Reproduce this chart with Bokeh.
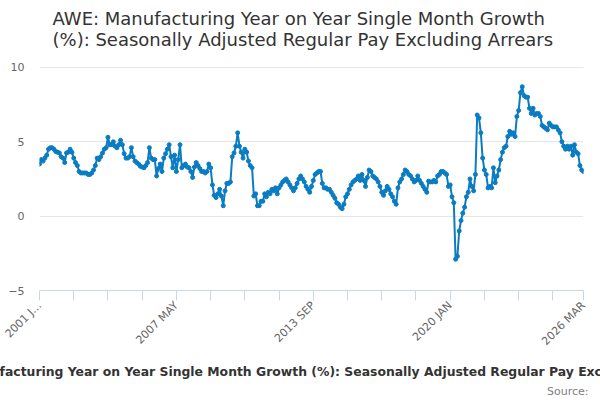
import math
from bokeh.plotting import figure
from bokeh.models import Range1d, FixedTicker, ColumnDataSource, Title
from bokeh.embed import file_html
from bokeh.resources import INLINE

TITLE_TEXT = ("AWE: Manufacturing Year on Year Single Month Growth\n"
              "(%): Seasonally Adjusted Regular Pay Excluding Arrears")
SERIES_NAME = "AWE: Manufacturing Year on Year Single Month Growth (%): Seasonally Adjusted Regular Pay Excluding Arrears"
SOURCE_TEXT = "Source:"

start_year = 2001
months = ["JAN", "FEB", "MAR", "APR", "MAY", "JUN", "JUL", "AUG", "SEP", "OCT", "NOV", "DEC"]

v2001 = [3.5, 3.8, 3.7, 3.9, 4.1, 4.5, 4.6, 4.6, 4.5, 4.35, 4.3, 4.25]
v2002 = [4.0, 3.9, 3.6, 4.25, 4.3, 4.5, 4.3, 3.9, 3.6, 3.4, 3.0, 2.9]
v2003 = [2.9, 2.9, 2.9, 2.8, 2.8, 2.9, 3.1, 3.4, 3.9, 3.8, 4.0, 4.25]
v2004 = [4.5, 4.6, 5.3, 4.8, 4.8, 5.0, 4.7, 4.6, 4.8, 5.1, 4.8, 4.2]
v2005 = [3.9, 3.9, 4.0, 4.6, 4.0, 3.7, 3.6, 3.5, 3.35, 3.3, 3.25, 3.4]
v2006 = [3.6, 4.6, 3.9, 3.8, 3.8, 2.7, 3.2, 3.5, 3.0, 3.9, 4.2, 4.5]
v2007 = [4.8, 4.0, 3.25, 4.1, 3.0, 3.8, 4.8, 3.25, 3.4, 3.5, 3.3, 3.25]
v2008 = [3.0, 2.6, 3.3, 3.6, 3.4, 3.2, 3.0, 3.0, 2.9, 3.0, 3.5, 3.25]
v2009 = [2.1, 1.4, 1.25, 1.5, 1.8, 1.35, 0.7, 1.7, 2.2, 2.2, 2.3, 4.0]
v2010 = [4.25, 4.7, 5.6, 4.7, 4.3, 3.9, 4.5, 4.3, 3.7, 3.4, 3.25, 1.35]
v2011 = [1.5, 0.7, 0.7, 1.0, 1.0, 1.5, 1.3, 1.6, 1.5, 1.8, 1.7, 1.9]
v2012 = [1.5, 1.9, 2.1, 2.3, 2.4, 2.5, 2.3, 2.1, 1.9, 1.7, 1.9, 2.2]
v2013 = [2.5, 2.7, 2.5, 2.3, 2.0, 1.8, 1.6, 2.0, 2.4, 2.8, 2.9, 3.0]
v2014 = [3.0, 2.2, 1.9, 1.9, 1.8, 1.8, 1.6, 1.4, 1.2, 0.9, 0.8, 0.6]
v2015 = [0.5, 0.8, 1.3, 1.5, 1.8, 2.1, 2.3, 2.4, 2.5, 2.7, 2.4, 2.8]
v2016 = [2.4, 2.0, 2.6, 3.1, 3.0, 2.7, 2.6, 2.5, 2.3, 2.0, 1.6, 1.4]
v2017 = [1.7, 2.0, 1.8, 1.5, 1.3, 1.0, 0.8, 1.9, 2.3, 2.5, 2.8, 3.1]
v2018 = [3.0, 2.8, 2.7, 2.5, 2.3, 2.4, 2.7, 2.4, 2.2, 2.0, 1.8, 1.6]
v2019 = [2.35, 2.3, 2.3, 2.4, 2.3, 2.7, 2.8, 3.0, 3.0, 2.9, 2.8, 2.0]
v2020 = [2.1, 1.3, 0.9, -2.9, -2.7, -1.0, -0.3, 0.2, 0.6, 1.3, 1.6, 2.5]
v2021 = [2.0, 1.7, 2.8, 6.8, 6.6, 5.6, 3.9, 3.1, 2.8, 1.9, 2.0, 1.9]
v2022 = [3.25, 2.25, 2.7, 3.1, 3.8, 4.3, 4.6, 4.7, 5.35, 5.7, 5.5, 5.6]
v2023 = [5.35, 6.7, 7.1, 8.3, 8.7, 8.1, 8.0, 8.0, 7.25, 6.9, 7.25, 6.8]
v2024 = [6.9, 6.9, 6.7, 6.1, 6.0, 5.9, 5.8, 6.25, 6.1, 6.0, 6.0, 6.0]
v2025 = [5.8, 5.6, 5.0, 4.7, 4.5, 4.7, 4.5, 4.7, 4.1, 4.8, 4.3, 4.2]
v2026 = [3.4, 3.1, 3.0]

yearly = [v2001, v2002, v2003, v2004, v2005, v2006, v2007, v2008, v2009, v2010,
          v2011, v2012, v2013, v2014, v2015, v2016, v2017, v2018, v2019, v2020,
          v2021, v2022, v2023, v2024, v2025, v2026]

values = [v for yr in yearly for v in yr]
labels = []
for yi, yr in enumerate(yearly):
    for mi in range(len(yr)):
        labels.append(f"{start_year + yi} {months[mi]}")
idx = list(range(len(values)))
n = len(values)

y_ticks = [-5, 0, 5, 10]
tick_step = 19
shown_labels = {0: "2001 J\u2026", 76: "2007 MAY", 152: "2013 SEP", 228: "2020 JAN", n - 1: "2026 MAR"}

FONT = "DejaVu Sans"

# frame: x 39..583, y 52..292 (value 10 lands at 67, -5 at 292)
p = figure(width=600, height=400, output_backend="svg", toolbar_location=None,
           title=TITLE_TEXT,
           x_range=Range1d(0, n - 1), y_range=Range1d(-5, 11),
           min_border_left=39, min_border_right=17, min_border_top=52, min_border_bottom=108)
p.outline_line_color = None
p.background_fill_color = "white"
p.border_fill_color = "white"

p.title.align = "left"
p.title.offset = 13
p.title.standoff = 5
p.title.vertical_align = "bottom"
p.title.text_font = FONT
p.title.text_font_size = "18px"
p.title.text_font_style = "normal"
p.title.text_color = "#333333"

src = ColumnDataSource(dict(x=idx, y=values, label=labels))
p.line("x", "y", source=src, line_color="#0a7cc1", line_width=2)
p.scatter("x", "y", source=src, size=4, fill_color="#0a7cc1", line_color="#0a7cc1")

xticks = list(range(0, n - 1, tick_step)) + [n - 1]
p.xaxis.ticker = FixedTicker(ticks=xticks)
p.xaxis.major_label_overrides = {t: shown_labels.get(t, "") for t in xticks}
p.xaxis.major_label_orientation = math.pi / 4
p.xaxis.axis_line_color = "#ccd6eb"
p.xaxis.major_tick_line_color = "#ccd6eb"
p.xaxis.major_tick_out = 10
p.xaxis.major_tick_in = 0
p.xaxis.minor_tick_line_color = None
p.xaxis.major_label_text_font = FONT
p.xaxis.major_label_text_font_size = "11px"
p.xaxis.major_label_text_color = "#666666"
p.xaxis.major_label_standoff = 3
p.xgrid.grid_line_color = None

p.yaxis.ticker = FixedTicker(ticks=y_ticks)
p.yaxis.axis_line_color = None
p.yaxis.major_tick_line_color = None
p.yaxis.major_tick_out = 0
p.yaxis.major_tick_in = 0
p.yaxis.minor_tick_line_color = None
p.yaxis.major_label_text_font = FONT
p.yaxis.major_label_text_font_size = "11px"
p.yaxis.major_label_text_color = "#666666"
p.yaxis.major_label_standoff = 15
p.ygrid.ticker = FixedTicker(ticks=y_ticks)
p.ygrid.grid_line_color = "#e6e6e6"

legend_title = Title(text=SERIES_NAME, align="center", vertical_align="bottom", standoff=12,
                     text_font=FONT, text_font_size="12.4px", text_font_style="bold",
                     text_color="#333333")
p.add_layout(legend_title, "below")
source_title = Title(text=SOURCE_TEXT, align="right", offset=-5, vertical_align="top", standoff=1,
                     text_font=FONT, text_font_size="11px", text_font_style="normal",
                     text_color="#808080")
p.add_layout(source_title, "below")

open("out.html", "w").write(file_html(p, INLINE))
